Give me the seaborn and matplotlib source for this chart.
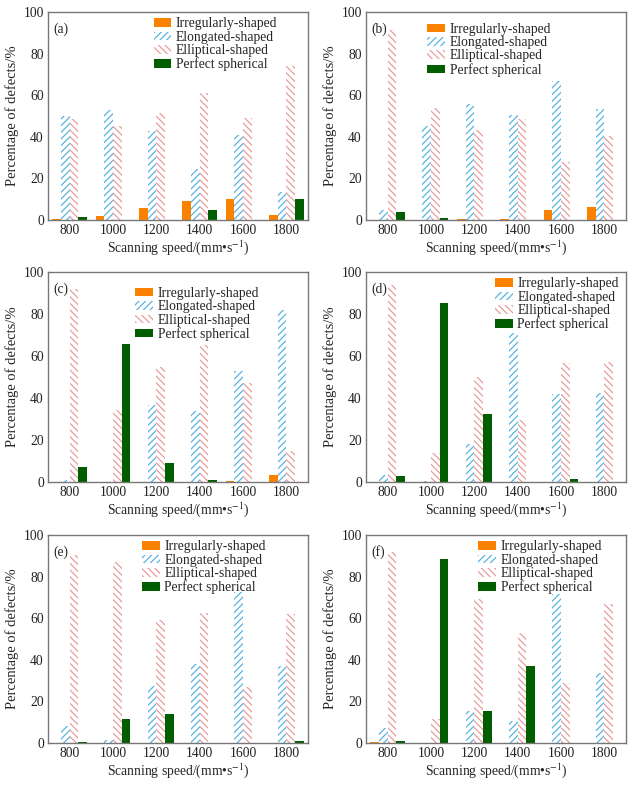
import matplotlib
matplotlib.use("Agg")
import matplotlib.pyplot as plt
import numpy as np
import pandas as pd
import seaborn as sns

speeds = ["800", "1000", "1200", "1400", "1600", "1800"]
shapes = ["Irregularly-shaped", "Elongated-shaped", "Elliptical-shaped", "Perfect spherical"]
panels = ["(a)", "(b)", "(c)", "(d)", "(e)", "(f)"]

# one row per panel (a)..(f), one value per scanning speed
irregular = [
    [0.3, 2.1, 6.0, 9.3, 10.3, 2.2],
    [0.0, 0.0, 0.6, 0.6, 4.8, 6.2],
    [0.0, 0.0, 0.0, 0.0, 0.3, 3.2],
    [0.0, 0.0, 0.0, 0.0, 0.0, 0.0],
    [0.0, 0.0, 0.0, 0.0, 0.0, 0.0],
    [0.3, 0.0, 0.0, 0.0, 0.0, 0.0],
]
elongated = [
    [50.0, 52.8, 42.7, 24.3, 40.8, 13.6],
    [4.8, 45.0, 56.0, 50.4, 67.0, 53.3],
    [0.8, 0.0, 36.6, 33.8, 52.9, 82.0],
    [3.2, 0.5, 18.0, 70.9, 41.7, 42.5],
    [8.3, 1.6, 27.2, 37.8, 72.8, 36.8],
    [7.0, 0.0, 15.2, 10.7, 71.8, 33.6],
]
elliptical = [
    [48.5, 45.0, 51.5, 61.0, 48.8, 74.0],
    [91.5, 54.0, 43.5, 48.6, 27.7, 40.3],
    [92.0, 34.5, 54.8, 65.3, 47.1, 14.6],
    [94.0, 14.0, 50.2, 29.3, 56.8, 57.3],
    [90.4, 87.2, 59.2, 62.4, 26.7, 62.0],
    [91.7, 11.7, 69.4, 53.1, 28.8, 66.9],
]
spherical = [
    [1.3, 0.0, 0.2, 5.0, 0.0, 10.0],
    [3.7, 1.0, 0.0, 0.0, 0.0, 0.0],
    [7.0, 65.6, 8.9, 1.1, 0.0, 0.0],
    [3.0, 85.2, 32.2, 0.0, 1.5, 0.0],
    [0.7, 11.7, 13.8, 0.0, 0.0, 1.1],
    [1.1, 88.5, 15.4, 37.0, 0.0, 0.0],
]

orange = "#fb8200"
blue = "#58b4e4"
pink = "#e89c9c"
green = "#005e00"

sns.set_style("white")
plt.rcParams["font.family"] = ["Liberation Serif", "DejaVu Serif"]
plt.rcParams["mathtext.fontset"] = "stix"
plt.rcParams["hatch.linewidth"] = 0.9
fs = 9.8

fig = plt.figure(figsize=(6.38, 7.85), dpi=100)
W, H = 638, 785
# axes boxes in pixels: left, top, right, bottom
boxes = [
    (48, 12, 308, 220), (366, 12, 626, 220),
    (48, 272, 308, 482), (366, 272, 626, 482),
    (48, 535, 308, 743), (366, 535, 626, 743),
]
# legend anchor (x frac, y frac) per panel
leg_pos = [(0.385, 1.0), (0.215, 0.975), (0.315, 0.955), (0.475, 1.0), (0.34, 1.0), (0.41, 1.0)]

for i, (l, t, r, b) in enumerate(boxes):
    ax = fig.add_axes([l / W, 1 - b / H, (r - l) / W, (b - t) / H])
    df = pd.DataFrame({
        "speed": speeds * 4,
        "pct": irregular[i] + elongated[i] + elliptical[i] + spherical[i],
        "shape": np.repeat(shapes, len(speeds)),
    })
    sns.barplot(data=df, x="speed", y="pct", hue="shape", order=speeds, hue_order=shapes,
                palette=[orange, blue, pink, green], saturation=1, width=0.8,
                legend=False, ax=ax)
    styles = [(orange, orange, ""), ("white", blue, "/////"),
              ("white", pink, "\\\\\\\\\\"), (green, green, "")]
    for cont, (fc, ec, hatch) in zip(ax.containers, styles):
        for p in cont.patches:
            p.set_facecolor(fc)
            p.set_edgecolor(ec)
            p.set_hatch(hatch)
            p.set_linewidth(0)
    ax.legend(handles=list(ax.containers), labels=shapes, loc="upper left",
              bbox_to_anchor=leg_pos[i], frameon=False, fontsize=fs,
              handlelength=1.3, handleheight=0.6, handletextpad=0.35,
              labelspacing=0.03, borderpad=0.2, borderaxespad=0.2)
    ax.set_ylim(0, 100)
    ax.set_xlim(-0.5, 5.5)
    ax.set_yticks([0, 20, 40, 60, 80, 100])
    ax.tick_params(axis="both", length=0, labelsize=9.8, pad=3, colors="#222222")
    ax.set_xlabel("Scanning speed/(mm•s$^{-1}$)", fontsize=9.8, labelpad=1)
    ax.set_ylabel("Percentage of defects/%", fontsize=10.5, labelpad=3)
    ax.text(0.02, 0.95, panels[i], transform=ax.transAxes, fontsize=fs, va="top", ha="left")
    for s in ax.spines.values():
        s.set_color("#777777")
        s.set_linewidth(1.0)

fig.savefig("out.png", dpi=100)
